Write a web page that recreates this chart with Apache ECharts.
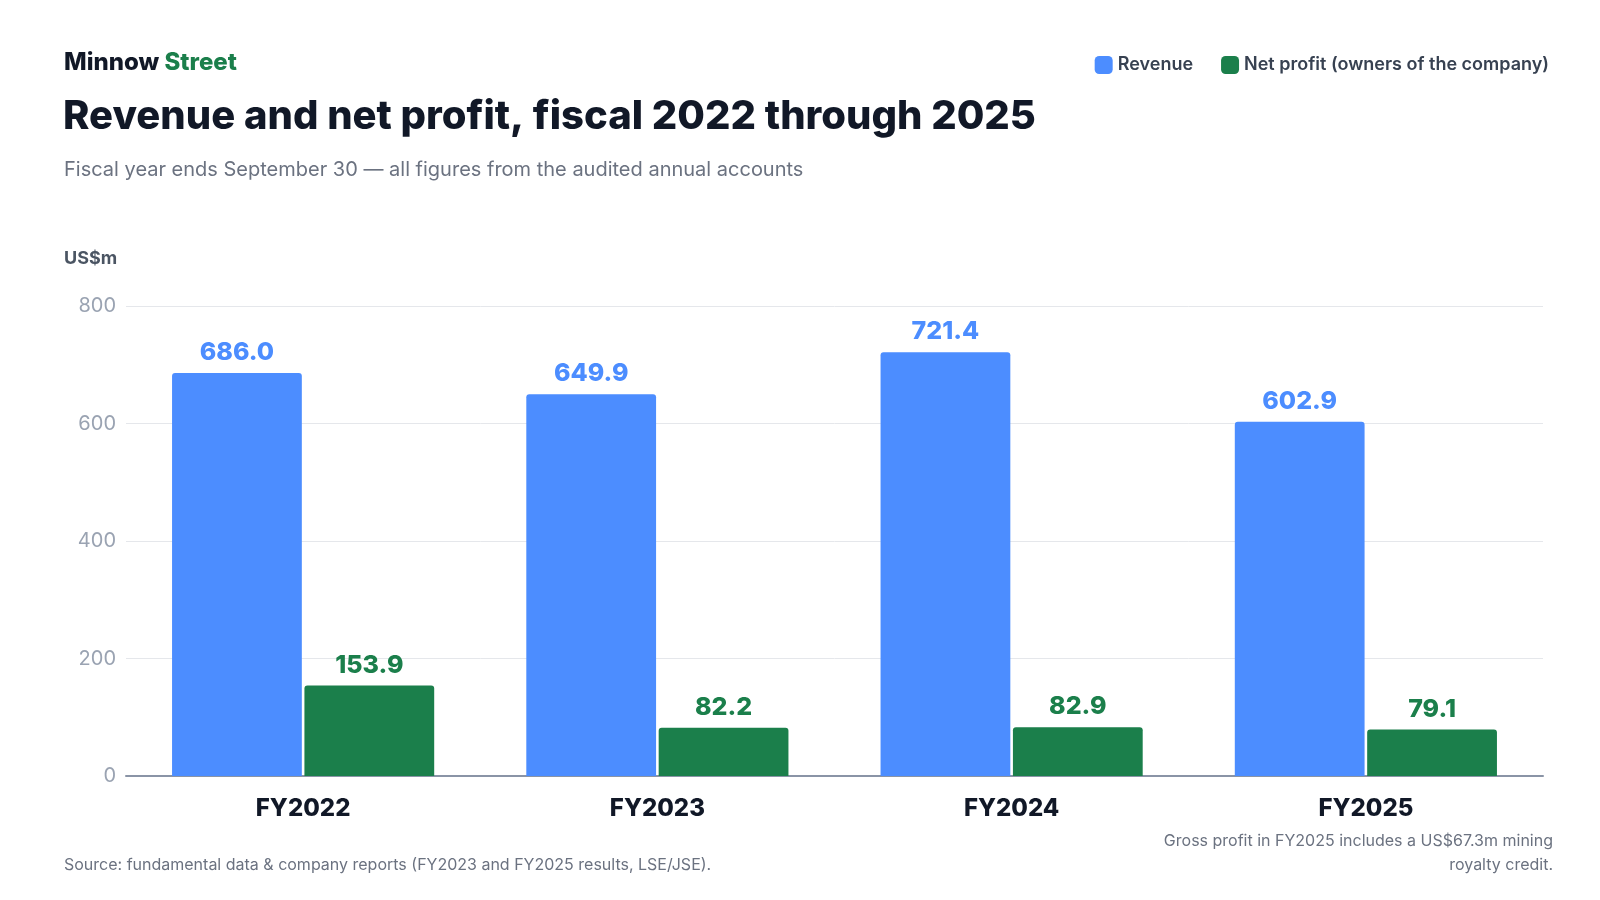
<!DOCTYPE html>
<html><head><meta charset="utf-8">
<script src="https://cdn.jsdelivr.net/npm/echarts@6/dist/echarts.min.js"></script>
<style>html,body{margin:0;padding:0;background:#fff}#c{width:1600px;height:900px}</style>
</head><body><div id="c"></div>
<script>
const categories = ['FY2022','FY2023','FY2024','FY2025'];
const revenue = [686.0, 649.9, 721.4, 602.9];
const netProfit = [153.9, 82.2, 82.9, 79.1];
const yTicks = [0, 200, 400, 600, 800];
const F = 'Inter, "Noto Sans", sans-serif';
const BLUE = '#4C8DFF', GREEN = '#1B7F4B';
const chart = echarts.init(document.getElementById('c'));
chart.setOption({
  animation:false,
  textStyle:{fontFamily:F},
  graphic:[
    {type:'text',left:64,top:51,style:{rich:{a:{fill:'#111827',fontSize:24,fontWeight:800,fontFamily:F},b:{fill:'#1B7F4B',fontSize:24,fontWeight:800,fontFamily:F}},text:'{a|Minnow }{b|Street}'}},
    {type:'text',left:63,top:97,style:{text:'Revenue and net profit, fiscal 2022 through 2025',fill:'#111827',fontSize:40,fontWeight:800,fontFamily:F}},
    {type:'text',left:64,top:160,style:{text:'Fiscal year ends September 30 — all figures from the audited annual accounts',fill:'#6B7280',fontSize:20,fontFamily:F}},
    {type:'text',left:64,top:250,style:{text:'US$m',fill:'#4B5563',fontSize:18,fontWeight:'bold',fontFamily:F}},
    {type:'text',left:64,top:857,style:{text:'Source: fundamental data & company reports (FY2023 and FY2025 results, LSE/JSE).',fill:'#6B7280',fontSize:16,fontFamily:F}},
    {type:'text',x:1553,y:833,style:{text:'Gross profit in FY2025 includes a US$67.3m mining',fill:'#6B7280',fontSize:16,align:'right',fontFamily:F}},
    {type:'text',x:1553,y:857,style:{text:'royalty credit.',fill:'#6B7280',fontSize:16,align:'right',fontFamily:F}}
  ],
  legend:{right:46,top:51,itemWidth:18,itemHeight:18,itemGap:28,icon:'roundRect',
    textStyle:{fontSize:18,color:'#374151',fontWeight:600,fontFamily:F},
    data:['Revenue','Net profit (owners of the company)']},
  grid:{left:126,right:57,top:306,bottom:124},
  xAxis:{type:'category',data:categories,
    axisLine:{lineStyle:{color:'#8A94A6',width:2}},axisTick:{show:false},
    axisLabel:{fontSize:24,fontWeight:800,color:'#111827',margin:21,fontFamily:F}},
  yAxis:{type:'value',min:yTicks[0],max:yTicks[yTicks.length-1],interval:200,
    axisLabel:{fontSize:20,color:'#9AA3B2',margin:10,align:'right',fontFamily:F},
    splitLine:{lineStyle:{color:'#E5E7EB'}}},
  series:[
    {name:'Revenue',type:'bar',data:revenue,barGap:'2%',barCategoryGap:'26%',
      itemStyle:{color:BLUE,borderRadius:[3,3,0,0]},
      label:{show:true,position:'top',distance:8,formatter:p=>p.value.toFixed(1),fontSize:25,fontWeight:800,color:BLUE,fontFamily:F}},
    {name:'Net profit (owners of the company)',type:'bar',data:netProfit,
      itemStyle:{color:GREEN,borderRadius:[3,3,0,0]},
      label:{show:true,position:'top',distance:8,formatter:p=>p.value.toFixed(1),fontSize:25,fontWeight:800,color:GREEN,fontFamily:F}}
  ]
});
</script></body></html>
